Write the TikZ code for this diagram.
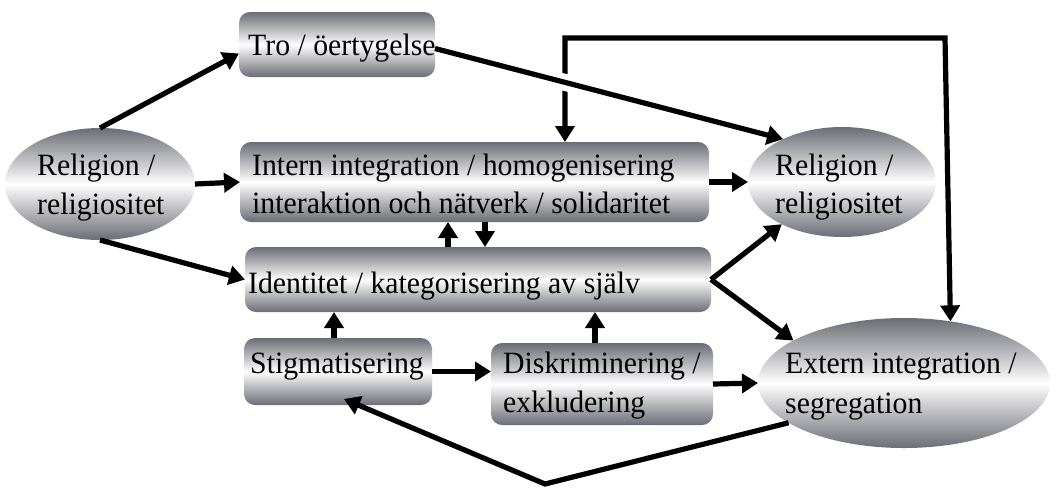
\documentclass[tikz,border=0pt]{standalone}
\usepackage{fontspec}
\setmainfont{Liberation Serif}[FakeStretch=0.96]
\usetikzlibrary{arrows.meta,shapes.geometric,calc}
\definecolor{edgegray}{RGB}{108,109,117}

\begin{document}
\begin{tikzpicture}[x=1pt,y=-1pt,
  box/.style={rectangle, rounded corners=11pt, inner sep=0pt, outer sep=0pt,
    top color=edgegray, bottom color=edgegray, middle color=white},
  oval/.style={ellipse, inner sep=0pt, outer sep=0pt,
    top color=edgegray, bottom color=edgegray, middle color=white},
  lbl/.style={anchor=base west, inner sep=0pt, font=\fontsize{31}{39}\selectfont},
  arr/.style={line width=5.2pt, -{Triangle[length=16pt,width=19pt]}},
  twoway/.style={line width=5.2pt, {Triangle[length=16pt,width=19pt]}-{Triangle[length=16pt,width=19pt]}},
]
\useasboundingbox (0,0) rectangle (1056,488);

% shaded boxes and ovals
\node[oval, minimum width=190pt, minimum height=112pt] (rel1) at (100,184) {};
\node[box, minimum width=196pt, minimum height=65pt] (tro) at (337,44.5) {};
\node[box, minimum width=469pt, minimum height=80pt] (intern) at (474.5,182) {};
\node[box, minimum width=466pt, minimum height=65pt] (ident) at (478,279.5) {};
\node[box, minimum width=188pt, minimum height=67pt] (stig) at (338,371.5) {};
\node[box, minimum width=222pt, minimum height=82pt] (disk) at (602,384) {};
\node[oval, minimum width=188pt, minimum height=110pt] (rel2) at (842,182) {};
\node[oval, minimum width=292pt, minimum height=130pt] (ext) at (904,383) {};

% labels
\node[lbl] (rel1a) at (37,175) {Religion /};
\node[lbl] (rel1b) at (37,214) {religiositet};
\node[lbl] (troT) at (248,55) {Tro / öertygelse};
\node[lbl] (intA) at (252,175) {Intern integration / homogenisering};
\node[lbl] (intB) at (252,213) {interaktion och nätverk / solidaritet};
\node[lbl] (idT) at (248,293) {Identitet / kategorisering av själv};
\node[lbl] (stigT) at (250,373) {Stigmatisering};
\node[lbl] (diskA) at (503,373) {Diskriminering /};
\node[lbl] (diskB) at (503,412) {exkludering};
\node[lbl] (rel2a) at (775,175) {Religion /};
\node[lbl] (rel2b) at (775,213) {religiositet};
\node[lbl] (extA) at (785,373) {Extern integration /};
\node[lbl] (extB) at (785,413) {segregation};

% helper coordinates for routed and vertical connectors
\coordinate (loopL) at (565,38);
\coordinate (loopR) at (945,38);
\coordinate (upX) at (448,0);
\coordinate (dnX) at (485,0);
\coordinate (sX) at (334,0);
\coordinate (dX) at (595,0);
\coordinate (bot) at (545,484);

% feedback loop over the top
\draw[twoway] (intern.north -| loopL) -- (loopL) -- (loopR) -- (ext.53);
% gap where the belief arrow passes over the loop
\draw[white, line width=17pt] ($([yshift=-4pt]tro.east)!0.35!(rel2.144)$) -- ($([yshift=-4pt]tro.east)!0.40!(rel2.144)$);

\draw[arr] (rel1.north) -- ([yshift=-9pt]tro.west);
\draw[arr] (rel1.east) -- (intern.west);
\draw[arr] (rel1.south) -- (ident.west);
\draw[arr] ([yshift=-4pt]tro.east) -- (rel2.144);
\draw[arr] (intern.east) -- (rel2.west);
\draw[arr] (ident.north -| upX) -- (intern.south -| upX);
\draw[arr] (intern.south -| dnX) -- (ident.north -| dnX);
\draw[arr] (stig.north -| sX) -- (ident.south -| sX);
\draw[arr] (disk.north -| dX) -- (ident.south -| dX);
\draw[arr] (stig.east) -- (disk.west |- stig.east);
\draw[arr] (disk.east) -- (ext.west);
\draw[arr] (ident.east) -- (rel2.215);
\draw[arr] (ident.east) -- (ext.159);
\draw[arr] (ext.199) -- (bot) -- ([xshift=6pt,yshift=6pt]stig.south);
\end{tikzpicture}
\end{document}
